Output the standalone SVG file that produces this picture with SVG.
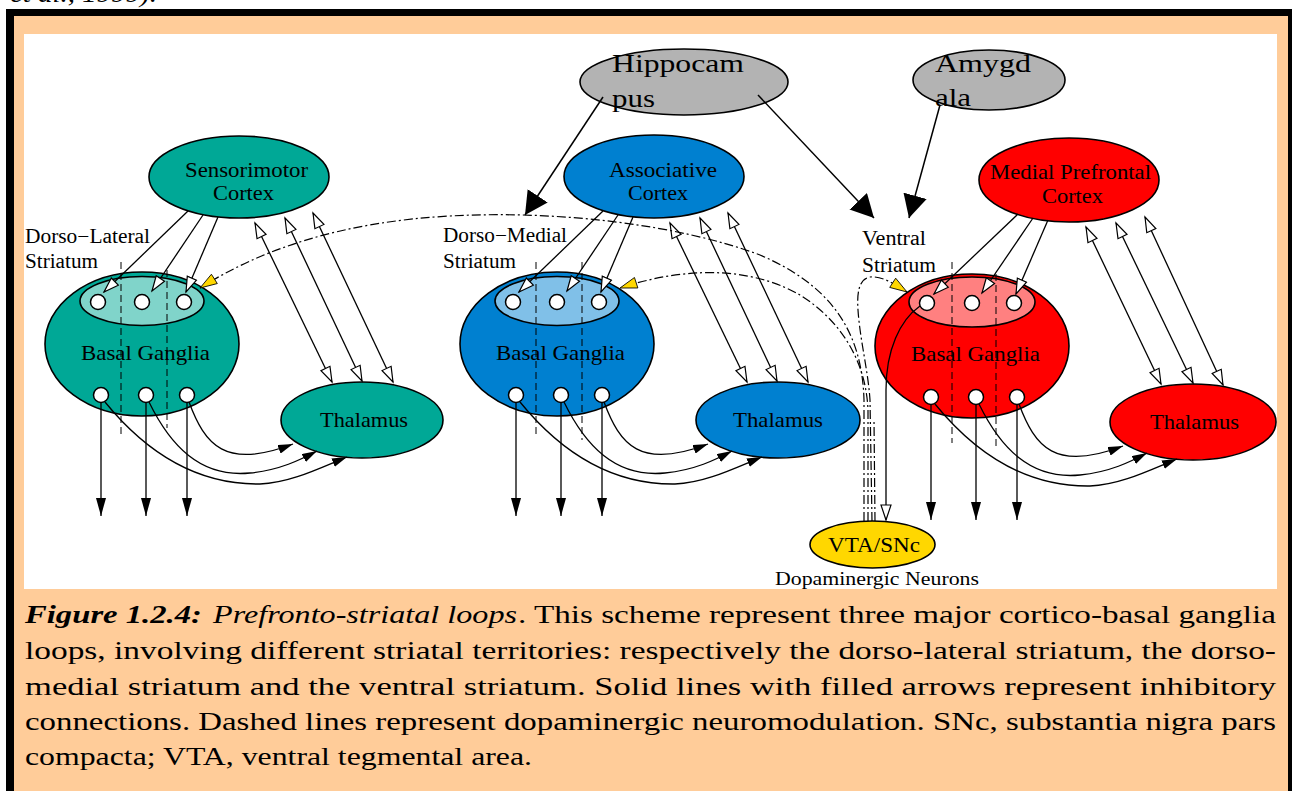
<svg xmlns="http://www.w3.org/2000/svg" width="1292" height="791" viewBox="0 0 1292 791">
<defs>
<style>
.lbl{font-family:"Liberation Serif","Times New Roman",serif;fill:#000}
.node{stroke:#000;stroke-width:1.6}
.nrn{fill:#fff;stroke:#000;stroke-width:1.5}
.ln{fill:none;stroke:#000;stroke-width:1.3}
.open{marker-end:url(#openHead)}
.bi{marker-start:url(#openHead);marker-end:url(#openHead)}
.fill{marker-end:url(#fillHead)}
.fills{marker-end:url(#fillHeadS)}
.big{marker-end:url(#bigHead);stroke-width:1.5}
.da{fill:none;stroke:#000;stroke-width:1.2;stroke-dasharray:9 3 2 3}
.dv{fill:none;stroke:#000;stroke-width:1;stroke-dasharray:7 4}
.yel{marker-end:url(#yelHead)}
.teal{fill:#00a896}.teal2{fill:#80d4ca}
.blue{fill:#0080d0}.blue2{fill:#80c0e8}
.red{fill:#ff0000}.red2{fill:#ff8080}
.gray{fill:#b3b3b3}
</style>
<marker id="openHead" markerUnits="userSpaceOnUse" markerWidth="18" markerHeight="14" viewBox="-1 -7 18 14" refX="15" refY="0" orient="auto-start-reverse"><path d="M0,-5 L15,0 L0,5 Z" fill="#fff" stroke="#000" stroke-width="1.2"/></marker>
<marker id="fillHead" markerUnits="userSpaceOnUse" markerWidth="18" markerHeight="10" viewBox="0 -5 18 10" refX="18" refY="0" orient="auto"><path d="M0,-5 L18,0 L0,5 Z" fill="#000"/></marker>
<marker id="fillHeadS" markerUnits="userSpaceOnUse" markerWidth="15" markerHeight="9" viewBox="0 -4.5 15 9" refX="15" refY="0" orient="auto"><path d="M0,-4.5 L15,0 L0,4.5 Z" fill="#000"/></marker>
<marker id="bigHead" markerUnits="userSpaceOnUse" markerWidth="23" markerHeight="24" viewBox="0 -12 23 24" refX="23" refY="0" orient="auto"><path d="M0,-12 L23,0 L0,12 Z" fill="#000"/></marker>
<marker id="yelHead" markerUnits="userSpaceOnUse" markerWidth="20" markerHeight="14" viewBox="-1 -7 20 14" refX="17" refY="0" orient="auto"><path d="M0,-5.5 L17,0 L0,5.5 Z" fill="#ffd700" stroke="#000" stroke-width="0.8"/></marker>
</defs>

<g id="frame">
<rect x="0" y="0" width="1292" height="791" fill="#fff"/>
<text class="lbl" x="10" y="2" font-size="25" font-style="italic" textLength="147" lengthAdjust="spacingAndGlyphs">et al., 1999).</text>
<rect x="6" y="9" width="1286" height="782" fill="#000"/>
<rect x="14" y="16" width="1274" height="775" fill="#ffcc99"/>
<rect x="24" y="34" width="1253" height="555" fill="#fff"/>
</g>

<!-- Nodes -->
<g id="hippocampus">
<ellipse class="node gray" cx="684" cy="82" rx="104" ry="33"/>
<text class="lbl" x="612" y="72" font-size="26" textLength="132" lengthAdjust="spacingAndGlyphs">Hippocam</text>
<text class="lbl" x="612" y="107" font-size="26" textLength="43" lengthAdjust="spacingAndGlyphs">pus</text>
</g>
<g id="amygdala">
<ellipse class="node gray" cx="989" cy="80" rx="76" ry="30"/>
<text class="lbl" x="935" y="72" font-size="26" textLength="96" lengthAdjust="spacingAndGlyphs">Amygd</text>
<text class="lbl" x="935" y="106" font-size="26" textLength="36" lengthAdjust="spacingAndGlyphs">ala</text>
</g>

<g id="sensorimotor-cortex">
<ellipse class="node teal" cx="239" cy="177" rx="90" ry="41"/>
<text class="lbl" x="185" y="177" font-size="21" textLength="123" lengthAdjust="spacingAndGlyphs">Sensorimotor</text>
<text class="lbl" x="213" y="200" font-size="21" textLength="61" lengthAdjust="spacingAndGlyphs">Cortex</text>
</g>
<g id="dl-striatum-label">
<text class="lbl" x="25" y="243" font-size="20" textLength="125" lengthAdjust="spacingAndGlyphs">Dorso−Lateral</text>
<text class="lbl" x="25" y="268" font-size="20" textLength="73" lengthAdjust="spacingAndGlyphs">Striatum</text>
</g>
<g id="dl-basal-ganglia">
<ellipse class="node teal" cx="142" cy="344" rx="97" ry="72"/>
<ellipse class="node teal2" cx="142" cy="301" rx="62" ry="24.5"/>
<circle class="nrn" cx="98" cy="302" r="7.5"/><circle class="nrn" cx="142" cy="302" r="7.5"/><circle class="nrn" cx="184" cy="302" r="7.5"/>
<circle class="nrn" cx="101" cy="395" r="7.5"/><circle class="nrn" cx="146" cy="395" r="7.5"/><circle class="nrn" cx="187" cy="395" r="7.5"/>
<text class="lbl" x="81" y="360" font-size="21" textLength="129" lengthAdjust="spacingAndGlyphs">Basal Ganglia</text>
</g>
<g id="dl-thalamus">
<ellipse class="node teal" cx="362" cy="420" rx="81" ry="38"/>
<text class="lbl" x="320" y="427" font-size="21" textLength="88" lengthAdjust="spacingAndGlyphs">Thalamus</text>
</g>

<g id="associative-cortex">
<ellipse class="node blue" cx="654" cy="176.5" rx="90" ry="41.5"/>
<text class="lbl" x="609" y="177" font-size="21" textLength="108" lengthAdjust="spacingAndGlyphs">Associative</text>
<text class="lbl" x="628" y="200" font-size="21" textLength="60" lengthAdjust="spacingAndGlyphs">Cortex</text>
</g>
<g id="dm-striatum-label">
<text class="lbl" x="443" y="242" font-size="20" textLength="124" lengthAdjust="spacingAndGlyphs">Dorso−Medial</text>
<text class="lbl" x="443" y="268" font-size="20" textLength="73" lengthAdjust="spacingAndGlyphs">Striatum</text>
</g>
<g id="dm-basal-ganglia">
<ellipse class="node blue" cx="557" cy="344" rx="97" ry="72"/>
<ellipse class="node blue2" cx="557" cy="301" rx="62" ry="24.5"/>
<circle class="nrn" cx="513" cy="302" r="7.5"/><circle class="nrn" cx="557" cy="302" r="7.5"/><circle class="nrn" cx="599" cy="302" r="7.5"/>
<circle class="nrn" cx="516" cy="395" r="7.5"/><circle class="nrn" cx="561" cy="395" r="7.5"/><circle class="nrn" cx="602" cy="395" r="7.5"/>
<text class="lbl" x="496" y="360" font-size="21" textLength="129" lengthAdjust="spacingAndGlyphs">Basal Ganglia</text>
</g>
<g id="dm-thalamus">
<ellipse class="node blue" cx="778" cy="420" rx="82" ry="38"/>
<text class="lbl" x="733" y="427" font-size="21" textLength="90" lengthAdjust="spacingAndGlyphs">Thalamus</text>
</g>

<g id="medial-prefrontal-cortex">
<ellipse class="node red" cx="1069" cy="180" rx="90" ry="42"/>
<text class="lbl" x="990" y="179" font-size="21" textLength="161" lengthAdjust="spacingAndGlyphs">Medial Prefrontal</text>
<text class="lbl" x="1042" y="203" font-size="21" textLength="61" lengthAdjust="spacingAndGlyphs">Cortex</text>
</g>
<g id="v-striatum-label">
<text class="lbl" x="862" y="245" font-size="20" textLength="64" lengthAdjust="spacingAndGlyphs">Ventral</text>
<text class="lbl" x="862" y="272" font-size="20" textLength="74" lengthAdjust="spacingAndGlyphs">Striatum</text>
</g>
<g id="v-basal-ganglia">
<ellipse class="node red" cx="972" cy="346" rx="97" ry="72"/>
<ellipse class="node red2" cx="972" cy="302" rx="63" ry="25"/>
<circle class="nrn" cx="927" cy="303" r="7.5"/><circle class="nrn" cx="972" cy="303" r="7.5"/><circle class="nrn" cx="1014" cy="303" r="7.5"/>
<circle class="nrn" cx="931" cy="397" r="7.5"/><circle class="nrn" cx="976" cy="397" r="7.5"/><circle class="nrn" cx="1017" cy="397" r="7.5"/>
<text class="lbl" x="911" y="361" font-size="21" textLength="129" lengthAdjust="spacingAndGlyphs">Basal Ganglia</text>
</g>
<g id="v-thalamus">
<ellipse class="node red" cx="1193" cy="422" rx="83" ry="38"/>
<text class="lbl" x="1150" y="429" font-size="21" textLength="89" lengthAdjust="spacingAndGlyphs">Thalamus</text>
</g>

<g id="vta-snc">
<ellipse class="node" cx="872.5" cy="544.5" rx="62.5" ry="23.5" fill="#ffd700"/>
<text class="lbl" x="828" y="552" font-size="21" textLength="92" lengthAdjust="spacingAndGlyphs">VTA/SNc</text>
<text class="lbl" x="775" y="585" font-size="19" textLength="204" lengthAdjust="spacingAndGlyphs">Dopaminergic Neurons</text>
</g>

<!-- Connectors -->
<g id="connectors">
<g id="dl-connectors">
<path class="ln open" d="M188,211 L104,292"/>
<path class="ln open" d="M203,215 L152,291"/>
<path class="ln open" d="M218,217 L186,292"/>
<path class="ln bi" d="M255,223 L332,382"/>
<path class="ln bi" d="M285,218 L362,381"/>
<path class="ln bi" d="M313,213 L393,382"/>
<path class="ln fill" d="M101,403 L101,516"/>
<path class="ln fill" d="M146,403 L146,516"/>
<path class="ln fill" d="M187,403 L187,516"/>
<path class="ln fills" d="M189,402 C205,445 225,470 293,444"/>
<path class="ln fills" d="M149,402 C170,445 200,478 250,473 C280,470 300,460 317,451"/>
<path class="ln fills" d="M105,402 C140,445 190,485 260,484 C290,483 320,468 347,457"/>
<path class="dv" d="M121,262 L121,434"/>
<path class="dv" d="M167,270 L167,428"/>
</g>
<g id="dm-connectors" transform="translate(415,0)">
<path class="ln open" d="M188,211 L104,292"/>
<path class="ln open" d="M203,215 L152,291"/>
<path class="ln open" d="M218,217 L186,292"/>
<path class="ln bi" d="M255,223 L332,382"/>
<path class="ln bi" d="M285,218 L362,381"/>
<path class="ln bi" d="M313,213 L393,382"/>
<path class="ln fill" d="M101,403 L101,516"/>
<path class="ln fill" d="M146,403 L146,516"/>
<path class="ln fill" d="M187,403 L187,516"/>
<path class="ln fills" d="M189,402 C205,445 225,470 293,444"/>
<path class="ln fills" d="M149,402 C170,445 200,478 250,473 C280,470 300,460 317,451"/>
<path class="ln fills" d="M105,402 C140,445 190,485 260,484 C290,483 320,468 347,457"/>
<path class="dv" d="M121,262 L121,436"/>
<path class="dv" d="M167,262 L167,440"/>
</g>
<g id="v-connectors" transform="translate(830,2)">
<path class="ln open" d="M188,212 L104,292"/>
<path class="ln open" d="M203,216 L152,291"/>
<path class="ln open" d="M218,218 L186,292"/>
<path class="ln bi" d="M256,225 L331,382"/>
<path class="ln bi" d="M286,221 L363,381"/>
<path class="ln bi" d="M315,215 L393,383"/>
<path class="ln fill" d="M101,403 L101,518"/>
<path class="ln fill" d="M146,403 L146,518"/>
<path class="ln fill" d="M187,403 L187,518"/>
<path class="ln fills" d="M189,402 C205,445 225,470 293,444"/>
<path class="ln fills" d="M149,402 C170,445 200,478 250,473 C280,470 300,460 317,451"/>
<path class="ln fills" d="M105,402 C140,445 190,485 260,484 C290,483 320,468 347,457"/>
<path class="dv" d="M122,260 L122,441"/>
<path class="dv" d="M166,272 L166,444"/>
</g>
<g id="limbic-connectors">
<path class="ln big" d="M603,97 L525,215"/>
<path class="ln big" d="M758,95 L874,218"/>
<path class="ln big" d="M940,105 L909,218"/>
</g>
<g id="dopamine-connectors">
<path class="da yel" d="M864,521 L864,400 C862,330 830,285 760,255 C680,225 560,210 450,216 C340,222 260,250 200,288"/>
<path class="da yel" d="M868,521 L868,410 C866,360 840,320 800,295 C760,272 700,262 620,288"/>
<path class="da yel" d="M872,521 L870,400 C868,370 860,340 858,310 C857,295 858,279 870,277 C882,276 893,283 907,292"/>
<path class="da" d="M875,521 L874,420"/>
<path class="ln open" d="M920,306 C900,320 886,350 886,390 L886,520"/>
</g>
</g>

<g id="caption">
<text class="lbl" x="25" y="623" font-size="26" font-weight="bold" font-style="italic" textLength="177" lengthAdjust="spacingAndGlyphs">Figure 1.2.4:</text>
<text class="lbl" x="213" y="623" font-size="26" font-style="italic" textLength="304" lengthAdjust="spacingAndGlyphs">Prefronto-striatal loops</text>
<text class="lbl" x="518" y="623" font-size="26" textLength="758" lengthAdjust="spacingAndGlyphs">. This scheme represent three major cortico-basal ganglia</text>
<text class="lbl" x="25" y="659" font-size="26" textLength="1251" lengthAdjust="spacingAndGlyphs">loops, involving different striatal territories: respectively the dorso-lateral striatum, the dorso-</text>
<text class="lbl" x="25" y="695" font-size="26" textLength="1251" lengthAdjust="spacingAndGlyphs">medial striatum and the ventral striatum. Solid lines with filled arrows represent inhibitory</text>
<text class="lbl" x="25" y="730" font-size="26" textLength="1251" lengthAdjust="spacingAndGlyphs">connections. Dashed lines represent dopaminergic neuromodulation. SNc, substantia nigra pars</text>
<text class="lbl" x="25" y="765" font-size="26" textLength="507" lengthAdjust="spacingAndGlyphs">compacta; VTA, ventral tegmental area.</text>
</g>
</svg>
